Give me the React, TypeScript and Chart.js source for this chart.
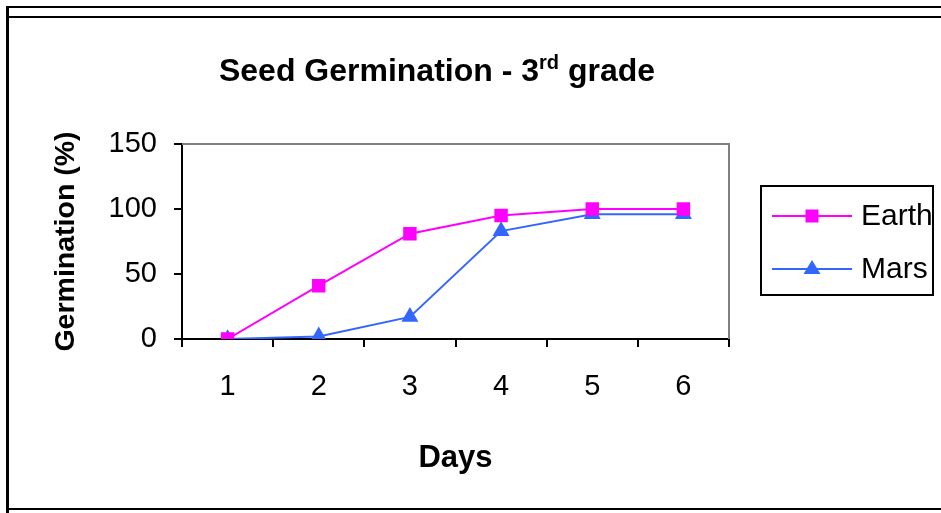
import React, { useEffect, useRef } from "react";
import { Chart, registerables } from "chart.js";

Chart.register(...registerables);

const days = ["1", "2", "3", "4", "5", "6"];
const earth = [0, 41, 81, 95, 100, 100];
const mars = [0, 2, 17, 83, 96, 96];
const yTicks = [0, 50, 100, 150];
const seriesNames = ["Earth", "Mars"];
const FONT = "'Liberation Sans', Arial, sans-serif";
const EARTH_COLOR = "#FF00FF";
const MARS_COLOR = "#3366FF";

const framePlugin = {
  id: "plotFrame",
  beforeDatasetsDraw(chart: any) {
    const { ctx, chartArea } = chart;
    ctx.save();
    ctx.strokeStyle = "#808080";
    ctx.lineWidth = 2;
    ctx.beginPath();
    ctx.moveTo(chartArea.left, chartArea.top);
    ctx.lineTo(chartArea.right, chartArea.top);
    ctx.lineTo(chartArea.right, chartArea.bottom);
    ctx.stroke();
    ctx.restore();
  },
};

const titlePlugin = {
  id: "supTitle",
  afterDraw(chart: any) {
    const { ctx } = chart;
    const big = `bold 32px ${FONT}`;
    const small = `bold 20px ${FONT}`;
    const parts = [
      { t: "Seed Germination - 3", f: big, dy: 0 },
      { t: "rd", f: small, dy: -12 },
      { t: " grade", f: big, dy: 0 },
    ];
    ctx.save();
    let total = 0;
    const widths = parts.map((p) => {
      ctx.font = p.f;
      const w = ctx.measureText(p.t).width;
      total += w;
      return w;
    });
    let x = 437 - total / 2;
    const y = 81;
    ctx.fillStyle = "#000";
    ctx.textBaseline = "alphabetic";
    ctx.textAlign = "left";
    parts.forEach((p, i) => {
      ctx.font = p.f;
      ctx.fillText(p.t, x, y + p.dy);
      x += widths[i];
    });
    ctx.restore();
  },
};

const legendPlugin = {
  id: "boxLegend",
  afterDraw(chart: any) {
    const { ctx, chartArea } = chart;
    const left = chartArea.right + 32;
    const top = 186;
    const w = 172;
    const h = 109;
    ctx.save();
    ctx.strokeStyle = "#000";
    ctx.lineWidth = 2;
    ctx.strokeRect(left, top, w, h);
    const rows = [
      { name: seriesNames[0], color: EARTH_COLOR, style: "rect", y: top + 30 },
      { name: seriesNames[1], color: MARS_COLOR, style: "triangle", y: top + 83 },
    ];
    rows.forEach((r) => {
      const x0 = left + 11;
      const x1 = left + 91;
      const cx = (x0 + x1) / 2;
      ctx.strokeStyle = r.color;
      ctx.fillStyle = r.color;
      ctx.lineWidth = 2;
      ctx.beginPath();
      ctx.moveTo(x0, r.y);
      ctx.lineTo(x1, r.y);
      ctx.stroke();
      ctx.beginPath();
      if (r.style === "rect") {
        ctx.rect(cx - 6.5, r.y - 6.5, 13, 13);
      } else {
        ctx.moveTo(cx, r.y - 9);
        ctx.lineTo(cx + 8.5, r.y + 5);
        ctx.lineTo(cx - 8.5, r.y + 5);
        ctx.closePath();
      }
      ctx.fill();
      ctx.fillStyle = "#000";
      ctx.font = `30px ${FONT}`;
      ctx.textBaseline = "middle";
      ctx.textAlign = "left";
      ctx.fillText(r.name, left + 100, r.y + 1);
    });
    ctx.restore();
  },
};

export default function App() {
  const ref = useRef<HTMLCanvasElement>(null);
  useEffect(() => {
    if (!ref.current) return;
    const chart = new Chart(ref.current, {
      type: "line",
      data: {
        labels: days,
        datasets: [
          {
            label: seriesNames[0],
            data: earth,
            borderColor: EARTH_COLOR,
            backgroundColor: EARTH_COLOR,
            borderWidth: 2,
            pointStyle: "rect",
            pointRadius: 9.5,
            pointBorderWidth: 0,
            tension: 0,
          },
          {
            label: seriesNames[1],
            data: mars,
            borderColor: MARS_COLOR,
            backgroundColor: MARS_COLOR,
            borderWidth: 2,
            pointStyle: "triangle",
            pointRadius: 9.8,
            pointBorderWidth: 0,
            tension: 0,
          },
        ],
      },
      options: {
        responsive: false,
        animation: false,
        layout: { padding: { left: 0, top: 144, right: 212, bottom: 0 } },
        plugins: {
          legend: { display: false },
          title: { display: false },
          tooltip: { enabled: false },
        },
        scales: {
          x: {
            type: "category",
            offset: true,
            grid: {
              offset: true,
              drawOnChartArea: false,
              drawTicks: true,
              tickLength: 8,
              color: "#000",
              lineWidth: 2,
            },
            border: { display: true, color: "#000", width: 2 },
            ticks: {
              color: "#000",
              font: { family: FONT, size: 29 },
              padding: 23,
              maxRotation: 0,
            },
            title: {
              display: true,
              text: "Days",
              color: "#000",
              font: { family: FONT, size: 31, weight: "bold" },
              padding: { top: 0, bottom: 36 },
            },
            afterFit(scale: any) {
              scale.height = 174;
            },
          },
          y: {
            min: 0,
            max: 150,
            afterBuildTicks(scale: any) {
              scale.ticks = yTicks.map((v) => ({ value: v }));
            },
            grid: {
              drawOnChartArea: false,
              drawTicks: true,
              tickLength: 8,
              color: "#000",
              lineWidth: 2,
            },
            border: { display: true, color: "#000", width: 2 },
            ticks: {
              color: "#000",
              font: { family: FONT, size: 29 },
              padding: 17,
            },
            title: {
              display: true,
              text: "Germination (%)",
              color: "#000",
              font: { family: FONT, size: 28.5, weight: "bold" },
              padding: { top: 49, bottom: 0 },
            },
            afterFit(scale: any) {
              scale.width = 182;
            },
          },
        },
      },
      plugins: [framePlugin, titlePlugin, legendPlugin],
    });
    return () => chart.destroy();
  }, []);

  return (
    <div
      style={{
        position: "fixed",
        left: 0,
        top: 0,
        width: 941,
        height: 513,
        overflow: "hidden",
        background: "#fff",
      }}
    >
      <canvas
        ref={ref}
        width={941}
        height={513}
        style={{ position: "absolute", left: 0, top: 0, width: 941, height: 513 }}
      />
      <div style={{ position: "absolute", left: 6, top: 6, width: 935, height: 2, background: "#000" }} />
      <div style={{ position: "absolute", left: 6, top: 16, width: 935, height: 2, background: "#000" }} />
      <div style={{ position: "absolute", left: 6, top: 508, width: 935, height: 2, background: "#000" }} />
      <div style={{ position: "absolute", left: 6, top: 6, width: 3, height: 507, background: "#000" }} />
    </div>
  );
}
